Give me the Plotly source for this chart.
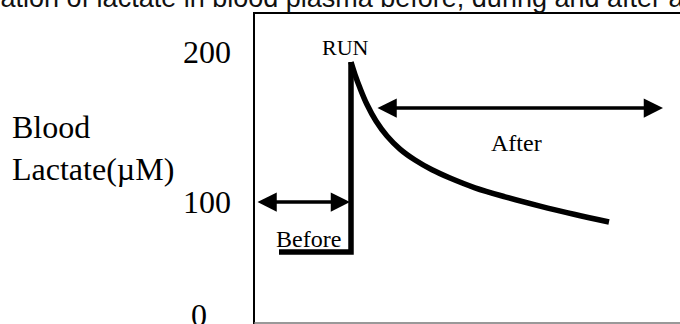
import plotly.graph_objects as go

# ---- data (schematic: time units, lactate in µM) ----
before_x = [2.5, 9.7, 9.7]
before_y = [66.7, 66.7, 193.3]

after_x = [9.7, 10.1, 10.6, 11.3, 12.2, 13.3, 14.6, 16.1, 17.8, 19.6, 22.1, 25.1, 28.6, 32.1, 35.5]
after_y = [193.3, 185.0, 176.0, 165.0, 154.0, 144.0, 135.3, 128.0, 121.5, 116.0, 109.5, 103.5, 97.3, 91.7, 86.7]

tick_vals = [24.7, 100, 200]
tick_text = ["0\u00a0\u00a0\u00a0", "100", "200"]

title_text = "Concentration of lactate in blood plasma before, during and after a run"
y_title = "Blood<br>Lactate(µM)"

W, H = 680, 324
ML, MT = 254, 12
PW, PH = W - ML, H - MT

serif = "Liberation Serif"

fig = go.Figure()
fig.add_trace(go.Scatter(x=before_x, y=before_y, mode="lines",
                         line=dict(color="black", width=5.5), showlegend=False,
                         hoverinfo="skip"))
fig.add_trace(go.Scatter(x=after_x, y=after_y, mode="lines",
                         line=dict(color="black", width=5.5, shape="spline", smoothing=1),
                         showlegend=False, hoverinfo="skip"))

# double-headed arrows
for (x0, x1, y) in [(0.2, 9.6, 100), (12.2, 40.9, 162.7)]:
    fig.add_annotation(x=x1, y=y, ax=x0, ay=y, xref="x", yref="y", axref="x", ayref="y",
                       text="", showarrow=True, arrowhead=2, startarrowhead=2,
                       arrowside="end+start", arrowwidth=3.5, arrowsize=1.1, startarrowsize=1.1,
                       arrowcolor="black")

# labels
fig.add_annotation(x=9.1, y=203.3, xref="x", yref="y", text="RUN", showarrow=False,
                   font=dict(family=serif, size=22, color="black"))
fig.add_annotation(x=5.4, y=75.3, xref="x", yref="y", text="Before", showarrow=False,
                   font=dict(family=serif, size=24, color="black"))
fig.add_annotation(x=26.2, y=139.3, xref="x", yref="y", text="After", showarrow=False,
                   font=dict(family=serif, size=24, color="black"))

# y axis title
fig.add_annotation(x=(10 - ML) / PW, y=(H - 148) / PH, xref="paper", yref="paper",
                   xanchor="left", yanchor="middle", align="left", text=y_title,
                   showarrow=False, font=dict(family=serif, size=32, color="black"))

# clipped title
fig.add_annotation(x=(-109.5 - ML) / PW, y=(H - 13) / PH, xref="paper", yref="paper",
                   xanchor="left", yanchor="bottom", text=title_text, showarrow=False,
                   bgcolor="rgba(0,0,0,0)", borderwidth=0, borderpad=0,
                   font=dict(family="Liberation Sans", size=27, color="#111111"))

# frame
fig.add_shape(type="line", xref="paper", yref="paper", x0=0, x1=0, y0=0, y1=1,
              line=dict(color="black", width=2), layer="above")
fig.add_shape(type="line", xref="paper", yref="paper", x0=0, x1=1, y0=1 - 1.0 / PH, y1=1 - 1.0 / PH,
              line=dict(color="black", width=2), layer="above")
fig.add_shape(type="line", xref="paper", yref="paper", x0=0, x1=1, y0=1.0 / PH, y1=1.0 / PH,
              line=dict(color="#777777", width=1.5), layer="above")

fig.update_xaxes(range=[0, 42.6], showgrid=False, zeroline=False, showticklabels=False,
                 showline=False, fixedrange=True)
fig.update_yaxes(range=[18.7, 226.7], showgrid=False, zeroline=False, showline=False,
                 tickvals=tick_vals, ticktext=tick_text, ticks="", ticklabelstandoff=22,
                 ticklabeloverflow="allow",
                 tickfont=dict(family=serif, size=32, color="black"), fixedrange=True)

fig.update_layout(width=W, height=H, margin=dict(l=ML, r=0, t=MT, b=0, autoexpand=False),
                  plot_bgcolor="white", paper_bgcolor="white", showlegend=False)

fig.write_html("out.html", config={"displayModeBar": False},
               post_script="document.body.style.margin='0';document.body.style.overflow='hidden';")
